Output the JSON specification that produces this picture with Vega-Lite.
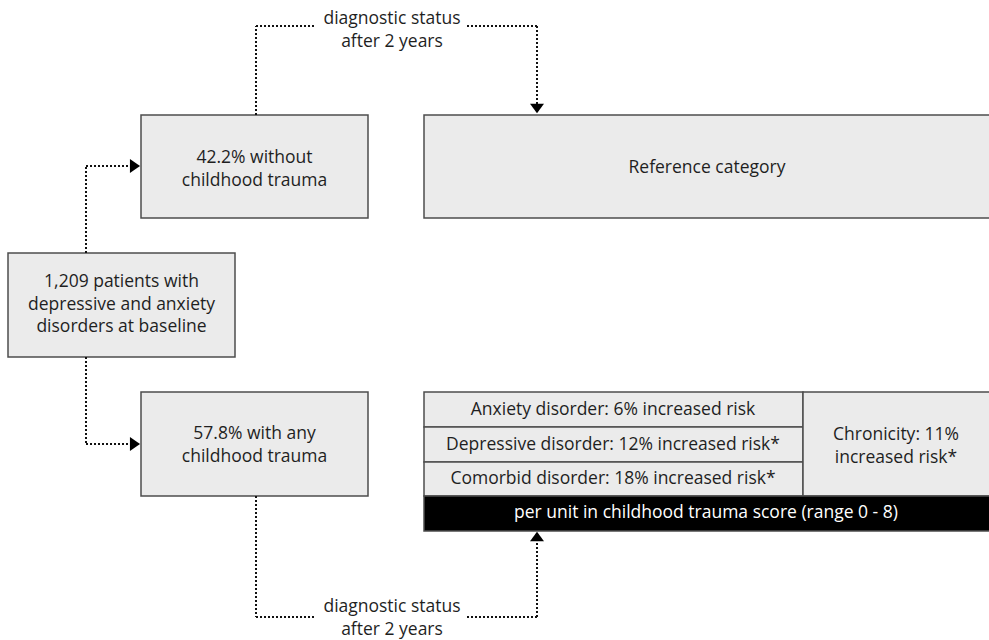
{
  "$schema": "https://vega.github.io/schema/vega-lite/v6.json",
  "width": 989,
  "height": 640,
  "autosize": {"type": "none"},
  "padding": 0,
  "background": "#ffffff",
  "config": {"view": {"stroke": null}, "axis": {"disable": true}},
  "datasets": {
    "boxes": [
      {"id": "baseline", "kind": "box", "x": 8, "x2": 235, "y": 253, "y2": 357},
      {"id": "without", "kind": "box", "x": 141, "x2": 368, "y": 115, "y2": 218},
      {"id": "reference", "kind": "box", "x": 424, "x2": 995, "y": 115, "y2": 218},
      {"id": "with", "kind": "box", "x": 141, "x2": 368, "y": 392, "y2": 496},
      {"id": "anxiety", "kind": "box", "x": 424, "x2": 803, "y": 392, "y2": 427},
      {"id": "depressive", "kind": "box", "x": 424, "x2": 803, "y": 427, "y2": 462},
      {"id": "comorbid", "kind": "box", "x": 424, "x2": 803, "y": 462, "y2": 496},
      {"id": "chronicity", "kind": "box", "x": 803, "x2": 995, "y": 392, "y2": 496},
      {"id": "unit", "kind": "bar", "x": 424, "x2": 995, "y": 496, "y2": 531}
    ],
    "connectors": [
      {"x": 256, "x2": 256, "y": 115, "y2": 26},
      {"x": 256, "x2": 316, "y": 26, "y2": 26},
      {"x": 467, "x2": 537, "y": 26, "y2": 26},
      {"x": 537, "x2": 537, "y": 26, "y2": 104},
      {"x": 86, "x2": 86, "y": 253, "y2": 166},
      {"x": 86, "x2": 130, "y": 166, "y2": 166},
      {"x": 86, "x2": 86, "y": 357, "y2": 444},
      {"x": 86, "x2": 130, "y": 444, "y2": 444},
      {"x": 256, "x2": 256, "y": 496, "y2": 617},
      {"x": 256, "x2": 316, "y": 617, "y2": 617},
      {"x": 467, "x2": 537, "y": 617, "y2": 617},
      {"x": 537, "x2": 537, "y": 617, "y2": 541}
    ],
    "arrows": [
      {"x": 537, "y": 108.5, "dir": "down"},
      {"x": 135, "y": 166, "dir": "right"},
      {"x": 135, "y": 444, "dir": "right"},
      {"x": 537, "y": 536.5, "dir": "up"}
    ],
    "labels": [
      {"kind": "box", "x": 392, "y": 19, "text": "diagnostic status\nafter 2 years"},
      {"kind": "box", "x": 392, "y": 607, "text": "diagnostic status\nafter 2 years"},
      {"kind": "box", "x": 254.5, "y": 158, "text": "42.2% without\nchildhood trauma"},
      {"kind": "box", "x": 707, "y": 168, "text": "Reference category"},
      {"kind": "box", "x": 121.5, "y": 282, "text": "1,209 patients with\ndepressive and anxiety\ndisorders at baseline"},
      {"kind": "box", "x": 254.5, "y": 434, "text": "57.8% with any\nchildhood trauma"},
      {"kind": "box", "x": 613, "y": 410, "text": "Anxiety disorder: 6% increased risk"},
      {"kind": "box", "x": 613, "y": 445, "text": "Depressive disorder: 12% increased risk*"},
      {"kind": "box", "x": 613, "y": 479, "text": "Comorbid disorder: 18% increased risk*"},
      {"kind": "box", "x": 896, "y": 435, "text": "Chronicity: 11%\nincreased risk*"},
      {"kind": "bar", "x": 706, "y": 513, "text": "per unit in childhood trauma score (range 0 - 8)"}
    ]
  },
  "layer": [
    {
      "data": {"name": "boxes"},
      "mark": {"type": "rect", "stroke": "#4d4d4d", "strokeWidth": 1.5},
      "encoding": {
        "x": {"field": "x", "type": "quantitative", "scale": {"domain": [0, 989], "nice": false, "zero": false}, "axis": null},
        "x2": {"field": "x2"},
        "y": {"field": "y", "type": "quantitative", "scale": {"domain": [0, 640], "nice": false, "zero": false, "reverse": true}, "axis": null},
        "y2": {"field": "y2"},
        "fill": {"field": "kind", "type": "nominal", "scale": {"domain": ["box", "bar"], "range": ["#ebebeb", "#000000"]}, "legend": null}
      }
    },
    {
      "data": {"name": "connectors"},
      "mark": {"type": "rule", "color": "#111111", "strokeWidth": 2, "strokeDash": [2, 2]},
      "encoding": {
        "x": {"field": "x", "type": "quantitative"},
        "x2": {"field": "x2"},
        "y": {"field": "y", "type": "quantitative"},
        "y2": {"field": "y2"}
      }
    },
    {
      "data": {"name": "arrows"},
      "mark": {"type": "point", "filled": true, "color": "#000000", "opacity": 1, "size": 196, "strokeWidth": 0},
      "encoding": {
        "x": {"field": "x", "type": "quantitative"},
        "y": {"field": "y", "type": "quantitative"},
        "shape": {"field": "dir", "type": "nominal", "scale": {"domain": ["down", "up", "right"], "range": ["M-1,-0.68L1,-0.68L0,0.68Z", "M-1,0.68L1,0.68L0,-0.68Z", "M-0.72,-1L-0.72,1L0.72,0Z"]}, "legend": null}
      }
    },
    {
      "data": {"name": "labels"},
      "transform": [{"filter": "datum.kind === 'box'"}],
      "mark": {"type": "text", "font": "Open Sans", "fontSize": 17.5, "color": "#1f1f1f", "align": "center", "baseline": "middle", "lineBreak": "\n", "lineHeight": 22.5},
      "encoding": {
        "x": {"field": "x", "type": "quantitative"},
        "y": {"field": "y", "type": "quantitative"},
        "text": {"field": "text", "type": "nominal"}
      }
    },
    {
      "data": {"name": "labels"},
      "transform": [{"filter": "datum.kind === 'bar'"}],
      "mark": {"type": "text", "font": "Open Sans", "fontSize": 17.5, "color": "#ffffff", "align": "center", "baseline": "middle"},
      "encoding": {
        "x": {"field": "x", "type": "quantitative"},
        "y": {"field": "y", "type": "quantitative"},
        "text": {"field": "text", "type": "nominal"}
      }
    }
  ]
}
